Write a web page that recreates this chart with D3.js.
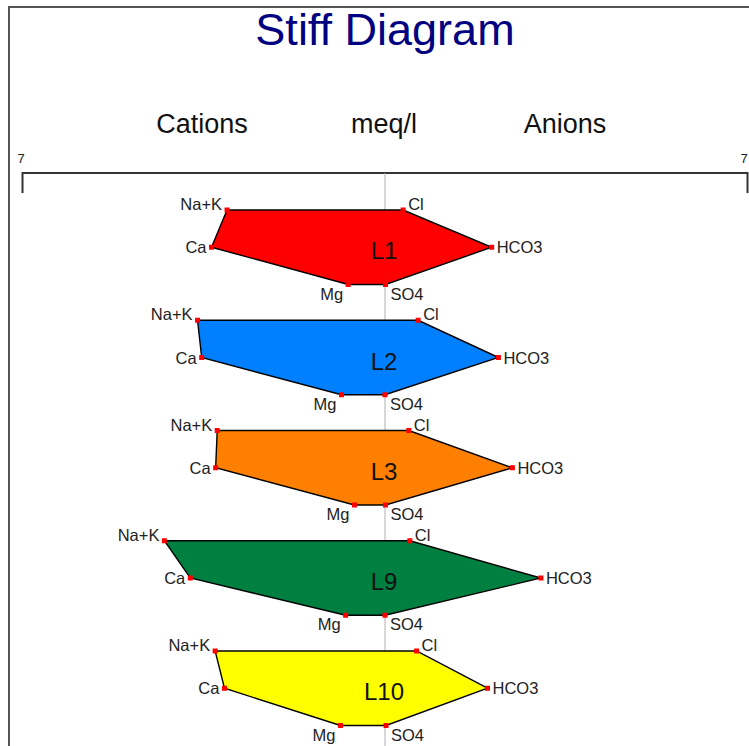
<!DOCTYPE html>
<html>
<head>
<meta charset="utf-8">
<script src="https://cdn.jsdelivr.net/npm/d3@7"></script>
<style>
  body { margin: 0; background: #fff; }
  svg { display: block; font-family: Arial, "Liberation Sans", sans-serif; }
</style>
</head>
<body>
<svg id="chart"></svg>
<script>
// samples and ion concentrations (meq/l)
var samples = ['L1', 'L2', 'L3', 'L9', 'L10'];
var naK  = [3.05, 3.62, 3.24, 4.26, 3.28];
var ca   = [3.35, 3.54, 3.27, 3.76, 3.10];
var mg   = [0.71, 0.84, 0.59, 0.76, 0.86];
var cl   = [0.35, 0.64, 0.46, 0.48, 0.61];
var hco3 = [2.06, 2.19, 2.46, 3.01, 1.98];
var so4  = [0.01, 0.00, 0.01, 0.00, 0.02];
var fills = ['#ff0000', '#0080ff', '#ff8000', '#008040', '#ffff00'];
var axisMax = 7;

var width = 749, height = 746;
var svg = d3.select('#chart').attr('width', width).attr('height', height);

// horizontal scale: cations to the left (negative), anions to the right
var x = d3.scaleLinear().domain([-axisMax, axisMax]).range([22.5, 747.5]);
// vertical position of each sample block
var ySample = d3.scaleLinear().domain([0, samples.length - 1]).range([210, 651]);
// ion rows inside a block
var yRow = d3.scalePoint().domain([0, 1, 2]).range([0, 74.5]);

// frame
svg.append('rect')
  .attr('x', 9).attr('y', 7)
  .attr('width', 800).attr('height', 800)
  .attr('fill', 'none').attr('stroke', '#555').attr('stroke-width', 2);

// title
svg.append('text')
  .attr('x', 385).attr('y', 45)
  .attr('text-anchor', 'middle')
  .attr('fill', '#000080')
  .style('font-size', '45px')
  .text('Stiff Diagram');

// header labels
[['Cations', 202], ['meq/l', 384], ['Anions', 565]].forEach(function(h) {
  svg.append('text')
    .attr('x', h[1]).attr('y', 133)
    .attr('text-anchor', 'middle')
    .attr('fill', '#111')
    .style('font-size', '27px')
    .text(h[0]);
});

// scale bar with end ticks
var axisY = 173;
svg.append('path')
  .attr('d', 'M' + x(-axisMax) + ',' + (axisY + 20) + 'V' + axisY + 'H' + x(axisMax) + 'V' + (axisY + 20))
  .attr('fill', 'none').attr('stroke', '#333').attr('stroke-width', 2);

svg.append('text').attr('x', x(-axisMax) - 5).attr('y', 163)
  .style('font-size', '13px').attr('fill', '#222').text(axisMax);
svg.append('text').attr('x', x(axisMax) - 7).attr('y', 163)
  .style('font-size', '13px').attr('fill', '#222').text(axisMax);

// centre line (behind the polygons)
svg.append('line')
  .attr('x1', x(0)).attr('x2', x(0))
  .attr('y1', axisY).attr('y2', height)
  .attr('stroke', '#b0b0b0').attr('stroke-width', 1);

var data = samples.map(function(name, i) {
  var y0 = ySample(i);
  return {
    name: name,
    fill: fills[i],
    y0: y0,
    pts: [
      { ion: 'Na+K', x: x(-naK[i]), y: y0 + yRow(0), side: 'L', row: 0 },
      { ion: 'Cl',   x: x(cl[i]),   y: y0 + yRow(0), side: 'R', row: 0 },
      { ion: 'HCO3', x: x(hco3[i]), y: y0 + yRow(1), side: 'R', row: 1 },
      { ion: 'SO4',  x: x(so4[i]),  y: y0 + yRow(2), side: 'R', row: 2 },
      { ion: 'Mg',   x: x(-mg[i]),  y: y0 + yRow(2), side: 'L', row: 2 },
      { ion: 'Ca',   x: x(-ca[i]),  y: y0 + yRow(1), side: 'L', row: 1 }
    ]
  };
});

var line = d3.line().x(function(d) { return d.x; }).y(function(d) { return d.y; })
  .curve(d3.curveLinearClosed);

var g = svg.selectAll('g.sample').data(data).enter().append('g').attr('class', 'sample');

g.append('path')
  .attr('d', function(d) { return line(d.pts); })
  .attr('fill', function(d) { return d.fill; })
  .attr('stroke', '#000').attr('stroke-width', 1.4)
  .attr('stroke-linejoin', 'miter');

g.append('text')
  .attr('x', x(0) - 1)
  .attr('y', function(d) { return d.y0 + yRow(1) + 12; })
  .attr('text-anchor', 'middle')
  .attr('fill', '#111')
  .style('font-size', '24px')
  .text(function(d) { return d.name; });

// vertical offset of the ion label baseline for each row
var rowDy = [0, 6, 15];

g.each(function(d) {
  var sel = d3.select(this);
  sel.selectAll('rect.pt').data(d.pts).enter().append('rect')
    .attr('class', 'pt')
    .attr('x', function(p) { return p.x - 2.5; })
    .attr('y', function(p) { return p.y - 2.5; })
    .attr('width', 5).attr('height', 5)
    .attr('fill', '#ff0000');

  sel.selectAll('text.ion').data(d.pts).enter().append('text')
    .attr('class', 'ion')
    .attr('x', function(p) { return p.side === 'L' ? p.x - 5 : p.x + 5; })
    .attr('y', function(p) { return p.y + rowDy[p.row]; })
    .attr('text-anchor', function(p) { return p.side === 'L' ? 'end' : 'start'; })
    .attr('fill', '#222')
    .style('font-size', '16.5px')
    .text(function(p) { return p.ion; });
});
</script>
</body>
</html>
